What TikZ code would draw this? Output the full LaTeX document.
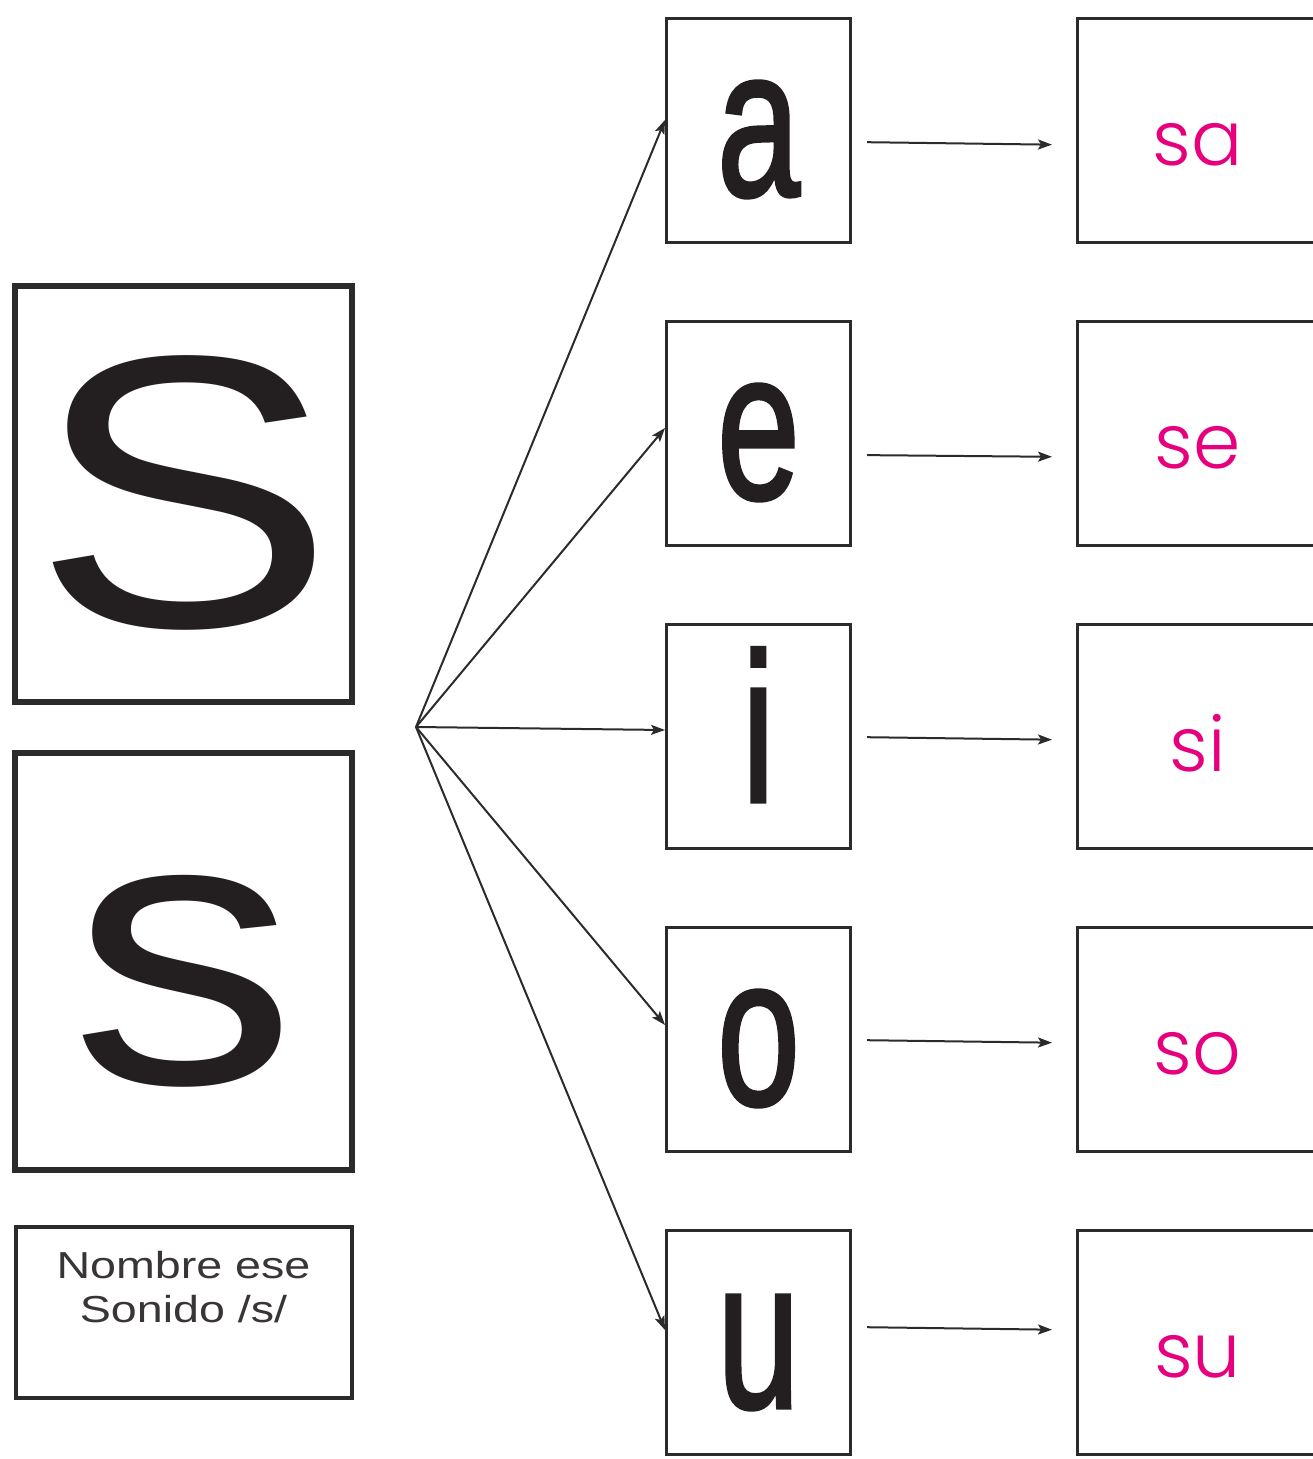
\documentclass[tikz,border=0pt]{standalone}
\usepackage{fontspec}
\setmainfont{Liberation Sans}
\newfontfamily\sylfont{Poppins Light}
\newfontfamily\vowfont{Liberation Sans}[FakeBold=2]
\usetikzlibrary{arrows.meta, positioning}
\definecolor{inkDark}{HTML}{231F20}
\definecolor{lineDark}{HTML}{2B2B2B}
\definecolor{sylPink}{HTML}{E6007E}

\begin{document}
\begin{tikzpicture}[
  x=0.5pt, y=-0.5pt,
  letterbox/.style={rectangle, draw=lineDark, line width=3pt, minimum width=168.5pt, inner sep=0pt, text=inkDark, font=\fontsize{194pt}{194pt}\selectfont},
  namebox/.style={rectangle, draw=lineDark, line width=2pt, minimum width=168pt, minimum height=85.5pt, inner sep=0pt},
  nametext/.style={inner sep=0pt, align=center, text=inkDark!90, font=\fontsize{18.8pt}{22pt}\selectfont},
  vowbox/.style={rectangle, draw=lineDark, line width=1.5pt, minimum width=92pt, minimum height=112pt, inner sep=0pt, text depth=23.5pt, text height=88.5pt, text=inkDark, font=\vowfont\fontsize{106pt}{106pt}\selectfont},
  sylbox/.style={rectangle, draw=lineDark, line width=1.5pt, minimum width=120pt, minimum height=112pt, inner sep=0pt, text depth=38.5pt, text height=73.5pt, text=sylPink, font=\sylfont\fontsize{38pt}{38pt}\selectfont},
  arrow/.style={-{Stealth[length=7pt, width=5pt, inset=1.5pt]}, line width=1pt, color=lineDark},
]
\useasboundingbox (0,0) rectangle (1312,1459);

% Left column -- the letter S
\node[letterbox, minimum height=208pt, text depth=38pt, text height=170pt] (bigS) at (183.5,494) {\scalebox{1.17}[1]{S}};
\node[letterbox, minimum height=208.5pt, text depth=43.5pt, text height=165pt, below=22.5pt of bigS] (smallS) {\scalebox{1.17}[1]{s}};
\node[namebox, below=26pt of smallS] (nameBox) {};
\node[nametext, below=11pt of nameBox.north] (nameText) {\scalebox{1.24}[1]{\begin{tabular}{@{}c@{}}Nombre ese\\Sonido /s/\end{tabular}}};

% Middle column -- vowels
\node[vowbox] (vowA) at (758.5,130.5) {\scalebox{0.7}[1]{a}};
\node[vowbox, below=38pt of vowA] (vowE) {\scalebox{0.7}[1]{e}};
\node[vowbox, below=38pt of vowE] (vowI) {\scalebox{0.7}[1]{i}};
\node[vowbox, below=38pt of vowI] (vowO) {\scalebox{0.7}[1]{o}};
\node[vowbox, below=38pt of vowO] (vowU) {\scalebox{0.7}[1]{u}};

% Right column -- syllables
\node[sylbox, right=112pt of vowA] (sylA) {sa};
\node[sylbox, right=112pt of vowE] (sylE) {se};
\node[sylbox, right=112pt of vowI] (sylI) {si};
\node[sylbox, right=112pt of vowO] (sylO) {so};
\node[sylbox, right=112pt of vowU] (sylU) {su};

% Fan of arrows
\coordinate (hub) at (416,727);
\draw[arrow] (hub) -- ([yshift=5.25pt]vowA.west);
\draw[arrow] (hub) -- ([yshift=2.75pt]vowE.west);
\draw[arrow] (hub) -- ([yshift=3.25pt]vowI.west);
\draw[arrow] (hub) -- ([yshift=7.25pt]vowO.west);
\draw[arrow] (hub) -- ([yshift=6.25pt]vowU.west);

% Vowel to syllable
\draw[arrow, shorten <=7.5pt, shorten >=12pt] ([yshift=-5.75pt]vowA.east) -- ([yshift=-7.25pt]sylA.west);
\draw[arrow, shorten <=7.5pt, shorten >=12pt] ([yshift=-10.75pt]vowE.east) -- ([yshift=-11.75pt]sylE.west);
\draw[arrow, shorten <=7.5pt, shorten >=12pt] ([yshift=-0.25pt]vowI.east) -- ([yshift=-1.75pt]sylI.west);
\draw[arrow, shorten <=7.5pt, shorten >=12pt] ([yshift=-0.25pt]vowO.east) -- ([yshift=-1.75pt]sylO.west);
\draw[arrow, shorten <=7.5pt, shorten >=12pt] ([yshift=7.75pt]vowU.east) -- ([yshift=6.25pt]sylU.west);

\end{tikzpicture}
\end{document}
